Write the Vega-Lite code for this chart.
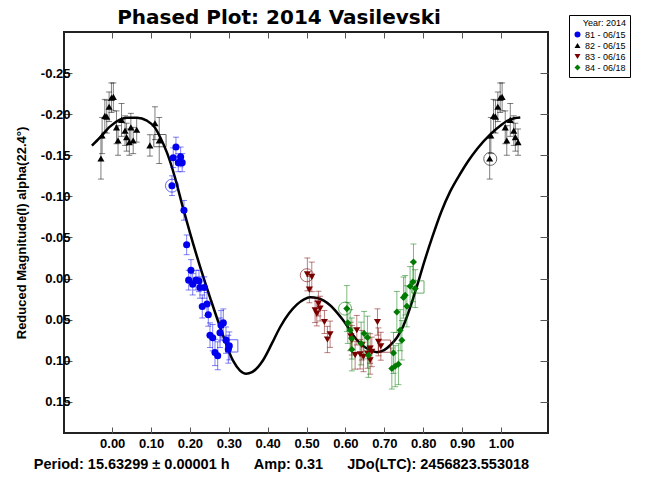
{
"$schema": "https://vega.github.io/schema/vega-lite/v6.json",
"width": 484, "height": 401,
"autosize": "none",
"padding": {"left": 64, "top": 32, "right": 101, "bottom": 45},
"background": "white",
"title": {"text": "Phased Plot: 2014 Vasilevski", "font": "DejaVu Sans", "fontSize": 20, "fontWeight": "bold", "anchor": "middle", "dx": -27, "offset": -13, "color": "#000"},
"config": {
  "font": "Liberation Sans",
  "view": {"stroke": "#222", "strokeWidth": 2},
  "axis": {"grid": false, "domain": false, "tickColor": "#555", "tickWidth": 1, "labelColor": "#000", "titleColor": "#000"},
  "legend": {"orient": "none", "legendX": 505, "legendY": -17, "strokeColor": "#000", "fillColor": "#fff", "padding": 4, "cornerRadius": 0, "titleFontSize": 9, "titleFontWeight": "normal", "titleAnchor": "end", "titlePadding": 2, "labelFontSize": 9, "symbolSize": 36, "symbolOpacity": 1, "rowPadding": 1, "symbolStrokeWidth": 0, "labelOffset": 3}
},
"datasets": {
  "pts": [
    {"series": "81 - 06/15", "phase": 0.1537, "mag": -0.113, "err": 0.012},
    {"series": "81 - 06/15", "phase": 0.157, "mag": -0.147, "err": 0.012},
    {"series": "81 - 06/15", "phase": 0.164, "mag": -0.160, "err": 0.012},
    {"series": "81 - 06/15", "phase": 0.170, "mag": -0.141, "err": 0.011},
    {"series": "81 - 06/15", "phase": 0.176, "mag": -0.148, "err": 0.012},
    {"series": "81 - 06/15", "phase": 0.180, "mag": -0.141, "err": 0.011},
    {"series": "81 - 06/15", "phase": 0.1846, "mag": -0.083, "err": 0.012},
    {"series": "81 - 06/15", "phase": 0.1915, "mag": -0.041, "err": 0.012},
    {"series": "81 - 06/15", "phase": 0.2026, "mag": -0.010, "err": 0.013},
    {"series": "81 - 06/15", "phase": 0.1967, "mag": 0.002, "err": 0.012},
    {"series": "81 - 06/15", "phase": 0.207, "mag": 0.007, "err": 0.013},
    {"series": "81 - 06/15", "phase": 0.2155, "mag": 0.002, "err": 0.012},
    {"series": "81 - 06/15", "phase": 0.2232, "mag": 0.003, "err": 0.013},
    {"series": "81 - 06/15", "phase": 0.2258, "mag": 0.011, "err": 0.013},
    {"series": "81 - 06/15", "phase": 0.2369, "mag": 0.011, "err": 0.013},
    {"series": "81 - 06/15", "phase": 0.2438, "mag": 0.031, "err": 0.014},
    {"series": "81 - 06/15", "phase": 0.2317, "mag": 0.034, "err": 0.014},
    {"series": "81 - 06/15", "phase": 0.2472, "mag": 0.044, "err": 0.014},
    {"series": "81 - 06/15", "phase": 0.2515, "mag": 0.069, "err": 0.015},
    {"series": "81 - 06/15", "phase": 0.2585, "mag": 0.072, "err": 0.016},
    {"series": "81 - 06/15", "phase": 0.2773, "mag": 0.066, "err": 0.018},
    {"series": "81 - 06/15", "phase": 0.2799, "mag": 0.057, "err": 0.018},
    {"series": "81 - 06/15", "phase": 0.2858, "mag": 0.054, "err": 0.017},
    {"series": "81 - 06/15", "phase": 0.2927, "mag": 0.075, "err": 0.016},
    {"series": "81 - 06/15", "phase": 0.3012, "mag": 0.082, "err": 0.017},
    {"series": "81 - 06/15", "phase": 0.2987, "mag": 0.086, "err": 0.017},
    {"series": "81 - 06/15", "phase": 0.2644, "mag": 0.090, "err": 0.016},
    {"series": "81 - 06/15", "phase": 0.2714, "mag": 0.094, "err": 0.017},
    {"series": "82 - 06/15", "phase": -0.029, "mag": -0.146, "err": 0.025},
    {"series": "82 - 06/15", "phase": -0.026, "mag": -0.174, "err": 0.022},
    {"series": "82 - 06/15", "phase": -0.019, "mag": -0.198, "err": 0.02},
    {"series": "82 - 06/15", "phase": -0.014, "mag": -0.197, "err": 0.02},
    {"series": "82 - 06/15", "phase": -0.008, "mag": -0.209, "err": 0.018},
    {"series": "82 - 06/15", "phase": -0.002, "mag": -0.220, "err": 0.018},
    {"series": "82 - 06/15", "phase": 0.003, "mag": -0.221, "err": 0.017},
    {"series": "82 - 06/15", "phase": 0.011, "mag": -0.184, "err": 0.02},
    {"series": "82 - 06/15", "phase": 0.015, "mag": -0.168, "err": 0.018},
    {"series": "82 - 06/15", "phase": 0.024, "mag": -0.193, "err": 0.02},
    {"series": "82 - 06/15", "phase": 0.033, "mag": -0.180, "err": 0.018},
    {"series": "82 - 06/15", "phase": 0.037, "mag": -0.172, "err": 0.017},
    {"series": "82 - 06/15", "phase": 0.044, "mag": -0.166, "err": 0.016},
    {"series": "82 - 06/15", "phase": 0.048, "mag": -0.184, "err": 0.017},
    {"series": "82 - 06/15", "phase": 0.054, "mag": -0.168, "err": 0.016},
    {"series": "82 - 06/15", "phase": 0.063, "mag": -0.181, "err": 0.015},
    {"series": "82 - 06/15", "phase": 0.097, "mag": -0.162, "err": 0.013},
    {"series": "82 - 06/15", "phase": 0.110, "mag": -0.189, "err": 0.02},
    {"series": "82 - 06/15", "phase": 0.121, "mag": -0.168, "err": 0.028},
    {"series": "82 - 06/15", "phase": 0.971, "mag": -0.146, "err": 0.025},
    {"series": "82 - 06/15", "phase": 0.974, "mag": -0.174, "err": 0.022},
    {"series": "82 - 06/15", "phase": 0.981, "mag": -0.198, "err": 0.02},
    {"series": "82 - 06/15", "phase": 0.986, "mag": -0.197, "err": 0.02},
    {"series": "82 - 06/15", "phase": 0.992, "mag": -0.209, "err": 0.018},
    {"series": "82 - 06/15", "phase": 0.998, "mag": -0.220, "err": 0.018},
    {"series": "82 - 06/15", "phase": 1.003, "mag": -0.221, "err": 0.017},
    {"series": "82 - 06/15", "phase": 1.011, "mag": -0.184, "err": 0.02},
    {"series": "82 - 06/15", "phase": 1.015, "mag": -0.168, "err": 0.018},
    {"series": "82 - 06/15", "phase": 1.024, "mag": -0.193, "err": 0.02},
    {"series": "82 - 06/15", "phase": 1.033, "mag": -0.180, "err": 0.018},
    {"series": "82 - 06/15", "phase": 1.037, "mag": -0.172, "err": 0.017},
    {"series": "82 - 06/15", "phase": 1.044, "mag": -0.166, "err": 0.016},
    {"series": "83 - 06/16", "phase": 0.502, "mag": -0.005, "err": 0.02},
    {"series": "83 - 06/16", "phase": 0.5134, "mag": -0.002, "err": 0.018},
    {"series": "83 - 06/16", "phase": 0.5072, "mag": 0.0135, "err": 0.016},
    {"series": "83 - 06/16", "phase": 0.5304, "mag": 0.0305, "err": 0.015},
    {"series": "83 - 06/16", "phase": 0.5219, "mag": 0.0386, "err": 0.015},
    {"series": "83 - 06/16", "phase": 0.5348, "mag": 0.0366, "err": 0.015},
    {"series": "83 - 06/16", "phase": 0.5263, "mag": 0.0427, "err": 0.015},
    {"series": "83 - 06/16", "phase": 0.5459, "mag": 0.0529, "err": 0.014},
    {"series": "83 - 06/16", "phase": 0.5605, "mag": 0.0678, "err": 0.016},
    {"series": "83 - 06/16", "phase": 0.5536, "mag": 0.0742, "err": 0.016},
    {"series": "83 - 06/16", "phase": 0.6138, "mag": 0.0702, "err": 0.017},
    {"series": "83 - 06/16", "phase": 0.6164, "mag": 0.0751, "err": 0.018},
    {"series": "83 - 06/16", "phase": 0.6292, "mag": 0.0629, "err": 0.018},
    {"series": "83 - 06/16", "phase": 0.6421, "mag": 0.0812, "err": 0.018},
    {"series": "83 - 06/16", "phase": 0.6249, "mag": 0.0933, "err": 0.017},
    {"series": "83 - 06/16", "phase": 0.6377, "mag": 0.0921, "err": 0.018},
    {"series": "83 - 06/16", "phase": 0.6635, "mag": 0.0852, "err": 0.018},
    {"series": "83 - 06/16", "phase": 0.6678, "mag": 0.0893, "err": 0.018},
    {"series": "83 - 06/16", "phase": 0.6635, "mag": 0.0994, "err": 0.017},
    {"series": "83 - 06/16", "phase": 0.6566, "mag": 0.0912, "err": 0.018},
    {"series": "83 - 06/16", "phase": 0.6823, "mag": 0.0529, "err": 0.016},
    {"series": "83 - 06/16", "phase": 0.6849, "mag": 0.0771, "err": 0.017},
    {"series": "83 - 06/16", "phase": 0.6910, "mag": 0.0824, "err": 0.017},
    {"series": "83 - 06/16", "phase": 0.6462, "mag": 0.0954, "err": 0.018},
    {"series": "84 - 06/18", "phase": 0.6035, "mag": 0.0366, "err": 0.028},
    {"series": "84 - 06/18", "phase": 0.606, "mag": 0.054, "err": 0.025},
    {"series": "84 - 06/18", "phase": 0.612, "mag": 0.0629, "err": 0.025},
    {"series": "84 - 06/18", "phase": 0.6164, "mag": 0.073, "err": 0.025},
    {"series": "84 - 06/18", "phase": 0.648, "mag": 0.067, "err": 0.027},
    {"series": "84 - 06/18", "phase": 0.6566, "mag": 0.0718, "err": 0.026},
    {"series": "84 - 06/18", "phase": 0.6403, "mag": 0.0791, "err": 0.026},
    {"series": "84 - 06/18", "phase": 0.6164, "mag": 0.0864, "err": 0.026},
    {"series": "84 - 06/18", "phase": 0.6591, "mag": 0.0933, "err": 0.027},
    {"series": "84 - 06/18", "phase": 0.7322, "mag": 0.0407, "err": 0.025},
    {"series": "84 - 06/18", "phase": 0.7407, "mag": 0.0629, "err": 0.025},
    {"series": "84 - 06/18", "phase": 0.7451, "mag": 0.0751, "err": 0.024},
    {"series": "84 - 06/18", "phase": 0.7235, "mag": 0.0905, "err": 0.025},
    {"series": "84 - 06/18", "phase": 0.7193, "mag": 0.1095, "err": 0.025},
    {"series": "84 - 06/18", "phase": 0.7279, "mag": 0.1067, "err": 0.025},
    {"series": "84 - 06/18", "phase": 0.7363, "mag": 0.1042, "err": 0.025},
    {"series": "84 - 06/18", "phase": 0.7493, "mag": 0.0232, "err": 0.025},
    {"series": "84 - 06/18", "phase": 0.7536, "mag": 0.0204, "err": 0.024},
    {"series": "84 - 06/18", "phase": 0.758, "mag": 0.0338, "err": 0.025},
    {"series": "84 - 06/18", "phase": 0.7663, "mag": 0.0095, "err": 0.024},
    {"series": "84 - 06/18", "phase": 0.7734, "mag": 0.0043, "err": 0.024},
    {"series": "84 - 06/18", "phase": 0.7794, "mag": 0.0123, "err": 0.023},
    {"series": "84 - 06/18", "phase": 0.775, "mag": -0.020, "err": 0.022}
  ],
  "marks": [
    {"series": "82 - 06/15", "kind": "first", "phase": 0.9725, "mag": -0.1456},
    {"series": "81 - 06/15", "kind": "first", "phase": 0.1537, "mag": -0.113},
    {"series": "83 - 06/16", "kind": "first", "phase": 0.5005, "mag": -0.004},
    {"series": "84 - 06/18", "kind": "first", "phase": 0.599, "mag": 0.0366},
    {"series": "82 - 06/15", "kind": "last", "phase": 0.1228, "mag": -0.1678},
    {"series": "81 - 06/15", "kind": "last", "phase": 0.3074, "mag": 0.082},
    {"series": "83 - 06/16", "kind": "last", "phase": 0.7003, "mag": 0.0823},
    {"series": "84 - 06/18", "kind": "last", "phase": 0.7863, "mag": 0.0103}
  ],
  "curve": [
    {"phase": -0.0523, "mag": -0.1617}, {"phase": -0.0317, "mag": -0.1714}, {"phase": -0.0059, "mag": -0.1848},
    {"phase": 0.0198, "mag": -0.1933}, {"phase": 0.0378, "mag": -0.1957}, {"phase": 0.0636, "mag": -0.1957},
    {"phase": 0.0893, "mag": -0.1921}, {"phase": 0.1099, "mag": -0.1836}, {"phase": 0.1228, "mag": -0.1726},
    {"phase": 0.1409, "mag": -0.1532}, {"phase": 0.1615, "mag": -0.1229}, {"phase": 0.1821, "mag": -0.0860},
    {"phase": 0.2001, "mag": -0.0555}, {"phase": 0.2258, "mag": -0.0148}, {"phase": 0.2541, "mag": 0.0265},
    {"phase": 0.2824, "mag": 0.0655}, {"phase": 0.3108, "mag": 0.1000}, {"phase": 0.3288, "mag": 0.1120},
    {"phase": 0.3442, "mag": 0.1158}, {"phase": 0.3597, "mag": 0.1139}, {"phase": 0.3880, "mag": 0.0994},
    {"phase": 0.4112, "mag": 0.0787}, {"phase": 0.4318, "mag": 0.0593}, {"phase": 0.4549, "mag": 0.0423},
    {"phase": 0.4755, "mag": 0.0314}, {"phase": 0.4936, "mag": 0.0253}, {"phase": 0.5090, "mag": 0.0229},
    {"phase": 0.5296, "mag": 0.0241}, {"phase": 0.5605, "mag": 0.0326}, {"phase": 0.5940, "mag": 0.0508},
    {"phase": 0.6300, "mag": 0.0751}, {"phase": 0.6635, "mag": 0.0872}, {"phase": 0.6815, "mag": 0.0896},
    {"phase": 0.6995, "mag": 0.0872}, {"phase": 0.7150, "mag": 0.0812}, {"phase": 0.7330, "mag": 0.0714},
    {"phase": 0.7485, "mag": 0.0580}, {"phase": 0.7613, "mag": 0.0423}, {"phase": 0.7742, "mag": 0.0240},
    {"phase": 0.7871, "mag": 0.0045}, {"phase": 0.7999, "mag": -0.0160}, {"phase": 0.8231, "mag": -0.0500},
    {"phase": 0.8463, "mag": -0.0810}, {"phase": 0.8695, "mag": -0.1060}, {"phase": 0.8952, "mag": -0.1275},
    {"phase": 0.9158, "mag": -0.1430}, {"phase": 0.9390, "mag": -0.1580}, {"phase": 0.9725, "mag": -0.1755},
    {"phase": 0.9982, "mag": -0.1860}, {"phase": 1.0162, "mag": -0.1920}, {"phase": 1.0342, "mag": -0.1950},
    {"phase": 1.0497, "mag": -0.1960}
  ]
},
"layer": [
  {
    "data": {"name": "curve"},
    "mark": {"type": "line", "color": "#000", "strokeWidth": 2.5, "interpolate": "monotone"},
    "encoding": {
      "x": {"field": "phase", "type": "quantitative", "scale": {"domain": [-0.124, 1.121], "nice": false, "zero": false},
        "axis": {"orient": "top", "values": [0, 0.1, 0.2, 0.3, 0.4, 0.5, 0.6, 0.7, 0.8, 0.9, 1.0], "labels": false, "tickSize": -6, "title": null}},
      "y": {"field": "mag", "type": "quantitative", "scale": {"domain": [-0.3, 0.188], "reverse": true, "nice": false, "zero": false},
        "axis": {"orient": "right", "values": [-0.25, -0.2, -0.15, -0.1, -0.05, 0, 0.05, 0.1, 0.15], "labels": false, "tickSize": -8, "title": null}}
    }
  },
  {
    "data": {"name": "pts"},
    "mark": {"type": "errorbar", "opacity": 0.5, "ticks": {"size": 6}},
    "encoding": {
      "x": {"field": "phase", "type": "quantitative", "axis": null},
      "y": {"field": "mag", "type": "quantitative", "axis": null},
      "yError": {"field": "err"},
      "color": {"field": "series", "type": "nominal"}
    }
  },
  {
    "data": {"name": "marks"},
    "transform": [{"filter": "datum.kind === 'first'"}],
    "mark": {"type": "point", "shape": "circle", "filled": false, "size": 170, "strokeWidth": 1, "opacity": 0.6},
    "encoding": {
      "x": {"field": "phase", "type": "quantitative", "axis": null},
      "y": {"field": "mag", "type": "quantitative", "axis": null},
      "color": {"field": "series", "type": "nominal"}
    }
  },
  {
    "data": {"name": "marks"},
    "transform": [{"filter": "datum.kind === 'last'"}],
    "mark": {"type": "point", "shape": "square", "filled": false, "size": 150, "strokeWidth": 1, "opacity": 0.6},
    "encoding": {
      "x": {"field": "phase", "type": "quantitative", "axis": null},
      "y": {"field": "mag", "type": "quantitative", "axis": null},
      "color": {"field": "series", "type": "nominal"}
    }
  },
  {
    "data": {"name": "pts"},
    "mark": {"type": "point", "filled": true, "size": 50, "opacity": 1},
    "encoding": {
      "x": {"field": "phase", "type": "quantitative",
        "axis": {"orient": "bottom", "values": [0, 0.1, 0.2, 0.3, 0.4, 0.5, 0.6, 0.7, 0.8, 0.9, 1.0], "labelExpr": "format(datum.value, '.2f')", "tickSize": -6, "labelPadding": 10, "labelFontSize": 13, "labelFontWeight": "bold",
          "title": "Period: 15.63299 ± 0.00001 h\u00a0\u00a0\u00a0\u00a0\u00a0\u00a0Amp: 0.31\u00a0\u00a0\u00a0\u00a0\u00a0\u00a0JDo(LTC): 2456823.553018",
          "titleFontSize": 14.5, "titleFontWeight": "bold", "titleX": 217, "titleY": 35, "titleAlign": "center", "titleBaseline": "alphabetic", "titleAnchor": null}},
      "y": {"field": "mag", "type": "quantitative",
        "axis": {"orient": "left", "values": [-0.25, -0.2, -0.15, -0.1, -0.05, 0, 0.05, 0.1, 0.15], "labelExpr": "(datum.value < -0.001 ? '-' : '') + format(abs(datum.value), '.2f')", "tickSize": -8, "labelPadding": 2, "labelFontSize": 13, "labelFontWeight": "bold",
          "title": "Reduced Magnitude(I) alpha(22.4°)", "titleFontSize": 13, "titleFontWeight": "bold", "titlePadding": 12}},
      "color": {"field": "series", "type": "nominal", "title": "Year: 2014",
        "scale": {"domain": ["81 - 06/15", "82 - 06/15", "83 - 06/16", "84 - 06/18"], "range": ["#0000EE", "#000000", "#7A0000", "#007A00"]}},
      "shape": {"field": "series", "type": "nominal", "title": "Year: 2014",
        "scale": {"domain": ["81 - 06/15", "82 - 06/15", "83 - 06/16", "84 - 06/18"], "range": ["circle", "triangle-up", "triangle-down", "diamond"]}}
    }
  }
],
"resolve": {"axis": {"x": "independent", "y": "independent"}}
}
